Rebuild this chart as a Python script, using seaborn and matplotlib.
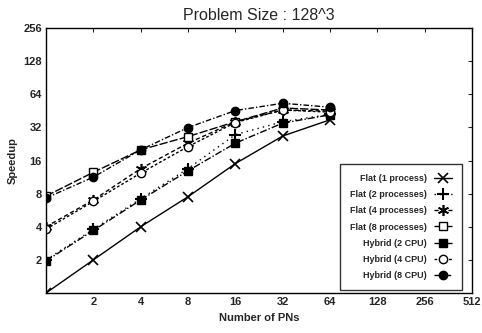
import matplotlib
matplotlib.use("Agg")
import matplotlib.pyplot as plt
import seaborn as sns
import pandas as pd

pns = [1, 2, 4, 8, 16, 32, 64]
flat1 = [1, 2, 4, 7.5, 15, 26.7, 37.5]
flat2 = [2, 3.8, 7.2, 13.5, 27.5, 36, 42]
flat4 = [4, 7, 13.5, 23, 36, 46, 45]
flat8 = [7.6, 12.5, 20, 26.4, 36, 48, 46]
hyb2 = [1.96, 3.7, 7.0, 12.9, 23, 35, 41.6]
hyb4 = [3.8, 6.8, 12.3, 21.4, 35.4, 46, 44]
hyb8 = [7.3, 11.3, 20, 31.9, 45.5, 53, 48.8]

labels = ["Flat (1 process)", "Flat (2 processes)", "Flat (4 processes)",
          "Flat (8 processes)", "Hybrid (2 CPU)", "Hybrid (4 CPU)", "Hybrid (8 CPU)"]
series = [flat1, flat2, flat4, flat8, hyb2, hyb4, hyb8]
xticks = [2, 4, 8, 16, 32, 64, 128, 256, 512]
yticks = [2, 4, 8, 16, 32, 64, 128, 256]

styles = [
    dict(marker="x", linestyle="-", mfc="black", ms=7, mew=1.2),
    dict(marker="+", linestyle=(0, (1, 3)), mfc="black", ms=8, mew=1.5),
    dict(marker=(6, 2, 0), linestyle=(0, (3, 2)), mfc="black", ms=8, mew=1.2),
    dict(marker="s", linestyle=(0, (6, 1.5)), mfc="white", ms=6, mew=1.0),
    dict(marker="s", linestyle=(0, (5, 1.5, 1, 1.5)), mfc="black", ms=6, mew=1.0),
    dict(marker="o", linestyle=(0, (2, 1.5)), mfc="white", ms=6, mew=1.0),
    dict(marker="o", linestyle=(0, (4, 1.5, 1, 1.5)), mfc="black", ms=6, mew=1.0),
]

sns.set_style("white")
plt.rcParams["font.family"] = ["Liberation Sans", "DejaVu Sans"]

fig = plt.figure(figsize=(4.82, 3.33), dpi=100)
ax = fig.add_axes([0.0954, 0.12, 0.884, 0.796])

for lab, vals, st in zip(labels, series, styles):
    df = pd.DataFrame({"pns": pns, "speedup": vals})
    sns.lineplot(data=df, x="pns", y="speedup", ax=ax, color="black",
                 label=lab, lw=1.0, mec="black", **st)

ax.set_xscale("log", base=2)
ax.set_yscale("log", base=2)
ax.set_xlim(1, 512)
ax.set_ylim(1, 256)
ax.set_xticks(xticks)
ax.set_xticklabels([str(t) for t in xticks], fontweight="bold", fontsize=8)
ax.set_yticks(yticks)
ax.set_yticklabels([str(t) for t in yticks], fontweight="bold", fontsize=8)
ax.minorticks_off()
ax.tick_params(direction="in", length=3, width=0.8, top=True, right=True, pad=3)
for s in ax.spines.values():
    s.set_color("black")
    s.set_linewidth(1.0)

ax.set_xlabel("Number of PNs", fontweight="bold", fontsize=8, labelpad=4)
ax.set_ylabel("Speedup", fontweight="bold", fontsize=8, labelpad=4)
ax.set_title("Problem Size : 128^3", fontsize=11.5, pad=6)

leg = ax.legend(loc="lower right", markerfirst=False, fontsize=6.5,
                frameon=True, fancybox=False, edgecolor="black",
                handlelength=2.0, borderpad=1.1, labelspacing=0.8,
                borderaxespad=0, bbox_to_anchor=(0.977, 0.011))
leg.get_frame().set_linewidth(1.0)
for t in leg.get_texts():
    t.set_fontweight("bold")

fig.savefig("out.png", dpi=100)
